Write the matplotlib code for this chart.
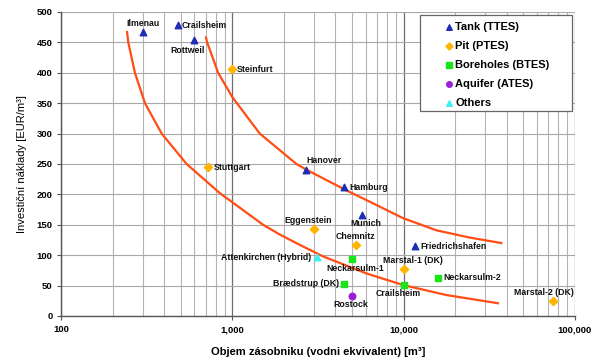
import numpy as np
import matplotlib
matplotlib.use('Agg')
import matplotlib.pyplot as plt
from matplotlib.patches import Rectangle
from matplotlib.ticker import FixedLocator, FuncFormatter, LogLocator, NullFormatter

plt.rcParams['font.family'] = ['Liberation Sans', 'DejaVu Sans']

# --- data -------------------------------------------------------------------
# Tank (TTES)
ttes_names = ['Ilmenau', 'Crailsheim', 'Rottweil', 'Hanover', 'Hamburg', 'Munich', 'Friedrichshafen']
ttes_vol = [300, 480, 600, 2700, 4500, 5700, 11600]
ttes_cost = [467, 478, 454, 240, 212, 166, 115]

# Pit (PTES)
ptes_names = ['Steinfurt', 'Stuttgart', 'Eggenstein', 'Chemnitz', 'Marstal-1 (DK)', 'Marstal-2 (DK)']
ptes_vol = [1000, 720, 3000, 5300, 10000, 74000]
ptes_cost = [406, 245, 143, 117, 77, 25]

# Boreholes (BTES)
btes_names = ['Neckarsulm-1', 'Brædstrup (DK)', 'Crailsheim', 'Neckarsulm-2']
btes_vol = [5000, 4500, 10000, 15800]
btes_cost = [93, 53, 51, 63]

# Aquifer (ATES)
ates_names = ['Rostock']
ates_vol = [5000]
ates_cost = [33]

# Others
other_names = ['Attenkirchen (Hybrid)']
other_vol = [3100]
other_cost = [97]

# trend curves, points
upper_x = [701, 713, 826, 1000, 1446, 2367, 2731, 4529, 6334, 9908, 15510, 24250, 37130]
upper_y = [458, 450, 400, 360, 300, 250, 240, 208, 188, 161, 141, 129, 120]
lower_x = [243, 247, 270, 309, 387, 541, 846, 1513, 1892, 2475, 3383, 6060, 9908, 17740, 35480]
lower_y = [467, 450, 400, 350, 300, 250, 202, 150, 134, 117, 98, 70, 51, 34.5, 21]

# --- styles ------------------------------------------------------------------
tank_color = '#1f2db4'
pit_color = '#ffb400'
bore_color = '#19e619'
aqui_color = '#9a1fd6'
other_color = '#3df0f0'
curve_color = '#ff4d14'

# label offsets (points) and alignment for each name
label_pos = {
    'Ilmenau': (0, 3, 'center', 'bottom'),
    'Crailsheim_t': (3, 0, 'left', 'center'),
    'Rottweil': (-5, -4, 'center', 'top'),
    'Hanover': (0, 4, 'left', 'bottom'),
    'Hamburg': (4, 0, 'left', 'center'),
    'Munich': (3, -3, 'center', 'top'),
    'Friedrichshafen': (4, 0, 'left', 'center'),
    'Steinfurt': (3, 0, 'left', 'center'),
    'Stuttgart': (4, 0, 'left', 'center'),
    'Eggenstein': (-4, 3, 'center', 'bottom'),
    'Chemnitz': (-1, 3, 'center', 'bottom'),
    'Marstal-1 (DK)': (7, 3, 'center', 'bottom'),
    'Marstal-2 (DK)': (-6, 3, 'center', 'bottom'),
    'Neckarsulm-1': (2, -3, 'center', 'top'),
    'Brædstrup (DK)': (-4, 0, 'right', 'center'),
    'Crailsheim_b': (-4, -3, 'center', 'top'),
    'Neckarsulm-2': (4, 0, 'left', 'center'),
    'Rostock': (-1, -3, 'center', 'top'),
    'Attenkirchen (Hybrid)': (-4, 0, 'right', 'center'),
}

fig = plt.figure(figsize=(6, 3.59), dpi=100)
ax = fig.add_axes([0.1017, 0.1198, 0.8566, 0.8468])

ax.set_xscale('log')
ax.set_xlim(100, 100000)
ax.set_ylim(0, 500)

# グリッド
ax.xaxis.set_minor_locator(LogLocator(base=10, subs=np.arange(2, 10)))
ax.xaxis.set_minor_formatter(NullFormatter())
ax.grid(True, which='major', axis='x', color='#6e6e6e', lw=0.9)
ax.grid(True, which='minor', axis='x', color='#b4b4b4', lw=0.8)
ax.grid(True, which='major', axis='y', color='#a8a8a8', lw=0.8)
ax.set_axisbelow(True)

ax.plot(upper_x, upper_y, color=curve_color, lw=1.6, zorder=2, solid_joinstyle='round')
ax.plot(lower_x, lower_y, color=curve_color, lw=1.6, zorder=2, solid_joinstyle='round')

ms = 22
ax.scatter(ttes_vol, ttes_cost, marker='^', s=ms, color=tank_color, zorder=3, label='Tank (TTES)')
ax.scatter(ptes_vol, ptes_cost, marker='D', s=ms * 0.8, color=pit_color, zorder=3, label='Pit (PTES)')
ax.scatter(btes_vol, btes_cost, marker='s', s=ms, color=bore_color, zorder=3, label='Boreholes (BTES)')
ax.scatter(ates_vol, ates_cost, marker='o', s=ms, color=aqui_color, zorder=3, label='Aquifer (ATES)')
ax.scatter(other_vol, other_cost, marker='^', s=ms, color=other_color, zorder=3, label='Others')

def put_labels(names, xs, ys, key_suffix=''):
    for n, x, y in zip(names, xs, ys):
        key = n + key_suffix if (n + key_suffix) in label_pos else n
        dx, dy, ha, va = label_pos[key]
        ax.annotate(n, (x, y), xytext=(dx, dy), textcoords='offset points',
                    ha=ha, va=va, fontsize=6.3, fontweight='bold', color='#111111',
                    zorder=4)

put_labels(ttes_names, ttes_vol, ttes_cost, '_t')
put_labels(ptes_names, ptes_vol, ptes_cost)
put_labels(btes_names, btes_vol, btes_cost, '_b')
put_labels(ates_names, ates_vol, ates_cost)
put_labels(other_names, other_vol, other_cost)

# 目盛り
ax.yaxis.set_major_locator(FixedLocator(np.arange(0, 501, 50)))
ax.xaxis.set_major_locator(FixedLocator([100, 1000, 10000, 100000]))
ax.xaxis.set_major_formatter(FuncFormatter(lambda v, p: '{:,}'.format(int(round(v)))))
ax.tick_params(axis='both', which='major', labelsize=6.8, length=3, width=0.8,
               color='#555555', pad=3)
ax.tick_params(axis='x', which='minor', length=0)
ax.tick_params(axis='x', pad=3.5)
for lab in ax.get_xticklabels() + ax.get_yticklabels():
    lab.set_fontweight('bold')

for side in ['top', 'right']:
    ax.spines[side].set_visible(False)
for side in ['left', 'bottom']:
    ax.spines[side].set_color('#555555')
    ax.spines[side].set_linewidth(1.0)

ax.set_xlabel('Objem zásobniku (vodni ekvivalent) [m³]', fontsize=8, fontweight='bold', labelpad=9)
ax.set_ylabel('Investiční náklady [EUR/m³]', fontsize=8, labelpad=7)

# 凡例の枠（右側に余白がある）
box = Rectangle((420 / 600, 1 - 111 / 359), 152 / 600, 96 / 359, transform=fig.transFigure,
                facecolor='white', edgecolor='#666666', lw=0.9, zorder=4.5, clip_on=False)
ax.add_patch(box)

leg = ax.legend(loc='upper left', bbox_to_anchor=(414 / 600, 1 - 11 / 359),
                bbox_transform=fig.transFigure, frameon=False,
                prop={'weight': 'bold', 'size': 8}, handlelength=4.25,
                handletextpad=-1.55, labelspacing=0.8, borderpad=0.5,
                scatterpoints=1, markerscale=0.85)
leg.set_zorder(6)

fig.savefig('out.png', dpi=100)
